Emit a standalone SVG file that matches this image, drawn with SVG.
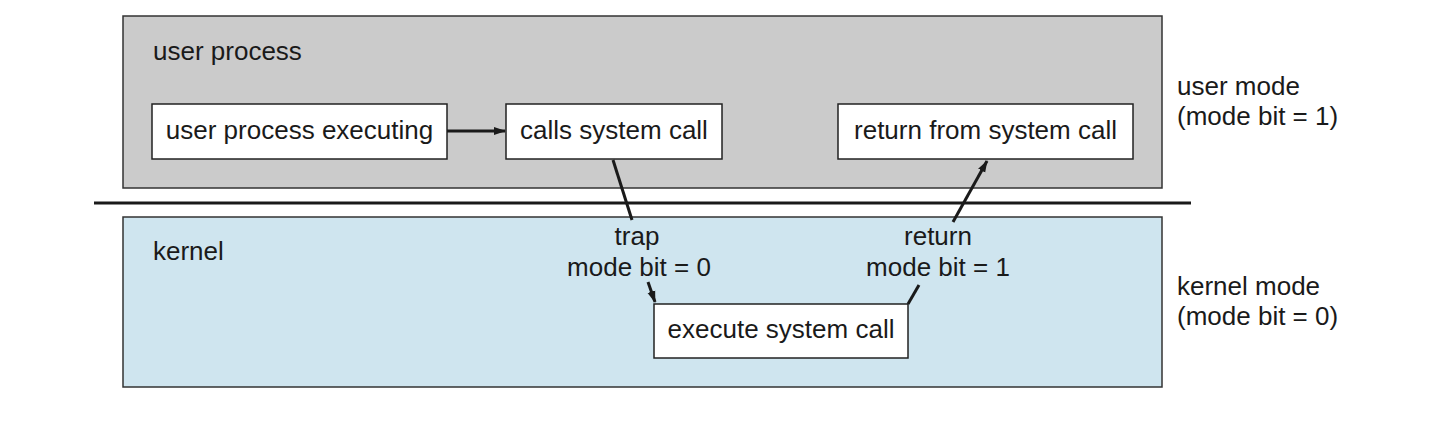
<svg xmlns="http://www.w3.org/2000/svg" width="1448" height="444" viewBox="0 0 1448 444">
<style>
text{font-family:"Liberation Sans",Arial,sans-serif;font-size:26px;fill:#1a1a1a}
.box{fill:#fff;stroke:#222;stroke-width:1.5}
.c{stroke:#1a1a1a;stroke-width:3;fill:none}
.m{text-anchor:middle}
</style>
<defs>
<marker id="ah" viewBox="0 0 12 10" refX="11" refY="5" markerWidth="12" markerHeight="10" markerUnits="userSpaceOnUse" orient="auto">
<path d="M0,1 L12,5 L0,9 Z" fill="#1a1a1a"/>
</marker>
</defs>
<rect width="1448" height="444" fill="#fff"/>
<g id="user-region">
<rect x="123" y="16" width="1039" height="172" fill="#cbcbcb" stroke="#333" stroke-width="1.5"/>
<text x="153" y="60">user process</text>
</g>
<line x1="94" y1="203" x2="1191" y2="203" stroke="#1a1a1a" stroke-width="3"/>
<g id="kernel-region">
<rect x="123" y="217" width="1039" height="170" fill="#cfe5ef" stroke="#333" stroke-width="1.5"/>
<text x="153" y="260">kernel</text>
</g>
<g id="n-exec"><rect class="box" x="152" y="104" width="295" height="55"/><text class="m" x="299.5" y="139">user process executing</text></g>
<g id="n-calls"><rect class="box" x="506" y="104" width="216" height="55"/><text class="m" x="614" y="139">calls system call</text></g>
<g id="n-return"><rect class="box" x="838" y="104" width="295" height="55"/><text class="m" x="985.5" y="139">return from system call</text></g>
<g id="n-execute"><rect class="box" x="654" y="304" width="254" height="54"/><text class="m" x="781" y="338">execute system call</text></g>
<g id="connectors">
<line class="c" x1="447" y1="131" x2="505" y2="131" marker-end="url(#ah)"/>
<line class="c" x1="613" y1="160" x2="632" y2="220"/>
<line class="c" x1="648" y1="282" x2="655" y2="302" marker-end="url(#ah)"/>
<line class="c" x1="919" y1="285" x2="908" y2="304"/>
<line class="c" x1="953" y1="222" x2="987" y2="161" marker-end="url(#ah)"/>
</g>
<g id="labels">
<text class="m" x="637" y="245">trap</text>
<text class="m" x="639" y="276">mode bit = 0</text>
<text class="m" x="938" y="245">return</text>
<text class="m" x="938" y="276">mode bit = 1</text>
<text x="1177" y="95">user mode</text>
<text x="1177" y="125">(mode bit = 1)</text>
<text x="1177" y="295">kernel mode</text>
<text x="1177" y="325">(mode bit = 0)</text>
</g>
</svg>
